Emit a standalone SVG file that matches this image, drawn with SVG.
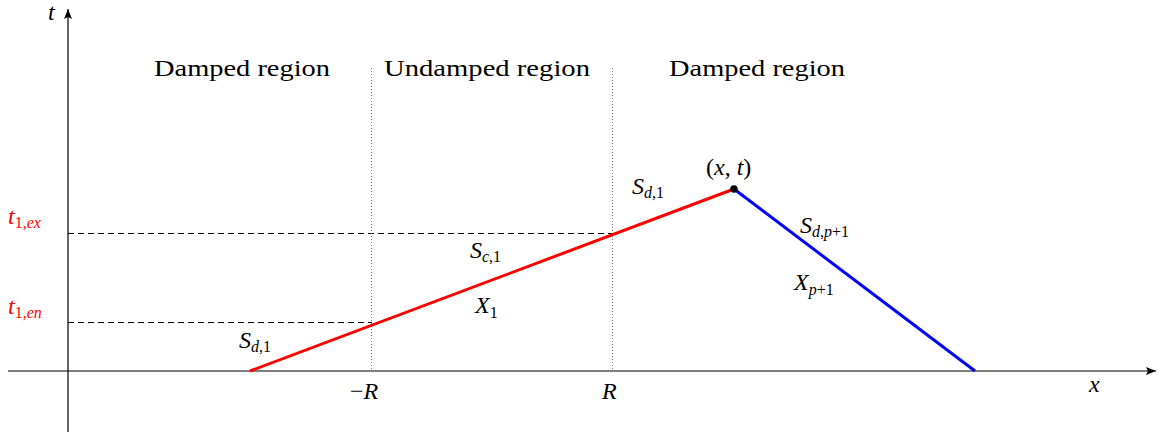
<svg xmlns="http://www.w3.org/2000/svg" width="1158" height="434" viewBox="0 0 1158 434">
<style>
text{font-family:Liberation Serif, Tinos, Times New Roman, serif}
.txt{font-size:23px;fill:#000}
.m{font-style:italic;font-size:24px;fill:#000}
.up{font-style:normal}
.red{fill:#ff0000}
.axis{stroke:#000;stroke-width:1.2;fill:none}
.dash{stroke:#000;stroke-width:1;stroke-dasharray:6 4;fill:none}
.dot{stroke:#777;stroke-width:1;stroke-dasharray:1 2;fill:none}
</style>
<defs>
<marker id="arr" markerWidth="12" markerHeight="10" refX="10" refY="5" orient="auto" markerUnits="userSpaceOnUse">
<path d="M0,1 L10,5 L0,9 L2,5 Z" fill="#000"/>
</marker>
</defs>
<rect width="1158" height="434" fill="#fff"/>
<g id="axes">
<line class="axis" x1="8" y1="371" x2="1156" y2="371" marker-end="url(#arr)"/>
<line class="axis" x1="68" y1="432" x2="68" y2="9" marker-end="url(#arr)"/>
</g>
<g id="guides">
<line class="dash" x1="68" y1="233.5" x2="612" y2="233.5"/>
<line class="dash" x1="68" y1="322.5" x2="372" y2="322.5"/>
<line class="dot" x1="371.5" y1="68" x2="371.5" y2="371"/>
<line class="dot" x1="612.5" y1="68" x2="612.5" y2="371"/>
</g>
<g id="connectors">
<line x1="250" y1="371" x2="734" y2="189" stroke="#ff0000" stroke-width="3"/>
<line x1="734" y1="189" x2="975" y2="371" stroke="#0000ff" stroke-width="3"/>
</g>
<g id="point">
<circle cx="734" cy="189" r="3.8" fill="#000"/>
</g>
<g id="regions">
<text class="txt" x="242" y="76" text-anchor="middle" textLength="176" lengthAdjust="spacingAndGlyphs">Damped region</text>
<text class="txt" x="487" y="76" text-anchor="middle" textLength="206" lengthAdjust="spacingAndGlyphs">Undamped region</text>
<text class="txt" x="757" y="76" text-anchor="middle" textLength="176" lengthAdjust="spacingAndGlyphs">Damped region</text>
</g>
<g id="labels">
<text class="m" x="48" y="20">t</text>
<text class="m" x="1089" y="392">x</text>
<text class="m red" x="8" y="224">t<tspan class="up" font-size="16" dy="4">1,</tspan><tspan font-size="16">ex</tspan></text>
<text class="m red" x="8" y="314">t<tspan class="up" font-size="16" dy="4">1,</tspan><tspan font-size="16">en</tspan></text>
<text class="m" x="239" y="348">S<tspan font-size="16" dy="4">d</tspan><tspan class="up" font-size="16">,1</tspan></text>
<text class="m" x="470" y="258">S<tspan font-size="16" dy="4">c</tspan><tspan class="up" font-size="16">,1</tspan></text>
<text class="m" x="475" y="313">X<tspan class="up" font-size="16" dy="5">1</tspan></text>
<text class="m" x="632" y="194">S<tspan font-size="16" dy="4">d</tspan><tspan class="up" font-size="16">,1</tspan></text>
<text class="m" x="706" y="175"><tspan class="up">(</tspan>x<tspan class="up">, </tspan>t<tspan class="up">)</tspan></text>
<text class="m" x="800" y="233">S<tspan font-size="16" dy="4">d</tspan><tspan class="up" font-size="16">,</tspan><tspan font-size="16">p</tspan><tspan class="up" font-size="16">+1</tspan></text>
<text class="m" x="794" y="290">X<tspan font-size="16" dy="5">p</tspan><tspan class="up" font-size="16">+1</tspan></text>
<text class="m" x="350" y="399"><tspan class="up">−</tspan>R</text>
<text class="m" x="602" y="399">R</text>
</g>
</svg>
